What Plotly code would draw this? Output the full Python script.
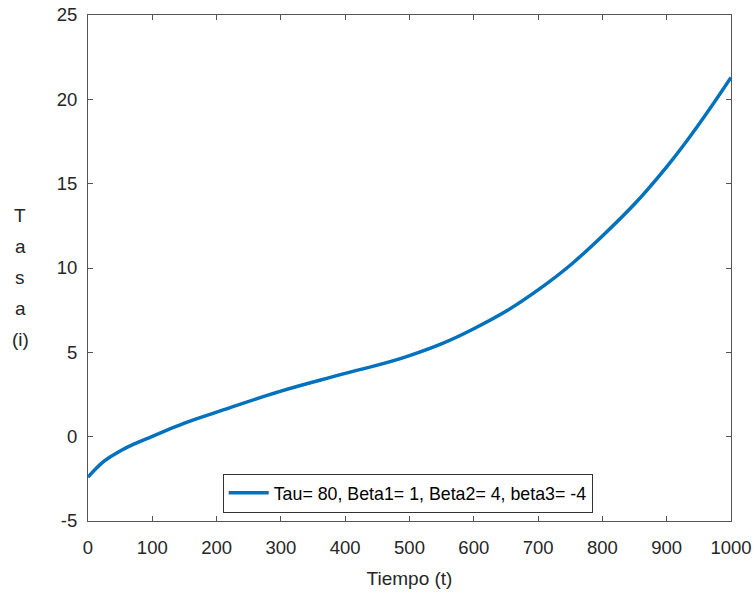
import plotly.graph_objects as go

# Data
tiempo = [0, 25, 50, 75, 100, 150, 200, 300, 400, 500, 600, 700, 800, 900, 1000]
tasa = [-2.4, -1.45, -0.85, -0.38, 0.02, 0.8, 1.45, 2.7, 3.75, 4.8, 6.4, 8.7, 11.9, 16.0, 21.3]
serie_nombre = "Tau= 80, Beta1= 1, Beta2= 4, beta3= -4"
x_ticks = [0, 100, 200, 300, 400, 500, 600, 700, 800, 900, 1000]
y_ticks = [-5, 0, 5, 10, 15, 20, 25]
y_tick_text = ["-5", "0", "5", "10", "15", "20", "25"]
y_label_chars = ["T", "a", "s", "a", "(i)"]

FONT = "Liberation Sans, Arial, sans-serif"
AX = "#262626"

fig = go.Figure()
fig.add_trace(go.Scatter(
    x=tiempo, y=tasa, mode="lines", name=serie_nombre,
    line=dict(color="#0072BD", width=3.5, shape="spline", smoothing=1.2),
))

axis_common = dict(
    showgrid=False, zeroline=False, showline=True, linecolor="#555555", linewidth=1,
    mirror="ticks", ticks="inside", ticklen=5, tickcolor="#555555", automargin=False,
    tickfont=dict(family=FONT, size=18.5, color=AX),
)

fig.update_layout(
    width=756, height=597,
    margin=dict(l=88, r=25, t=15, b=76),
    paper_bgcolor="white", plot_bgcolor="white",
    font=dict(family=FONT, color=AX),
    xaxis=dict(range=[0, 1000], tickvals=x_ticks, ticklabelstandoff=10,
               title=dict(text="Tiempo (t)", font=dict(family=FONT, size=19, color=AX), standoff=14),
               **axis_common),
    yaxis=dict(range=[-5, 25], tickvals=y_ticks, ticktext=y_tick_text, ticklabelstandoff=6, **axis_common),
    showlegend=True,
    legend=dict(x=0.2095, y=0.0164, xanchor="left", yanchor="bottom",
                bordercolor="#333333", borderwidth=1, bgcolor="white",
                font=dict(family=FONT, size=17.8, color="#000000"),
                tracegroupgap=0, itemwidth=40),
)

# stacked vertical y label, one character per line
baseline_spacing = 31
first_center = 215
for i, ch in enumerate(y_label_chars):
    ypix = first_center + i * baseline_spacing
    fig.add_annotation(
        text=ch, xref="paper", yref="paper",
        x=(20 - 88) / 643, y=(521 - ypix) / 506,
        xanchor="center", yanchor="middle", showarrow=False,
        font=dict(family=FONT, size=19, color=AX),
    )

fig.write_html("out.html")
